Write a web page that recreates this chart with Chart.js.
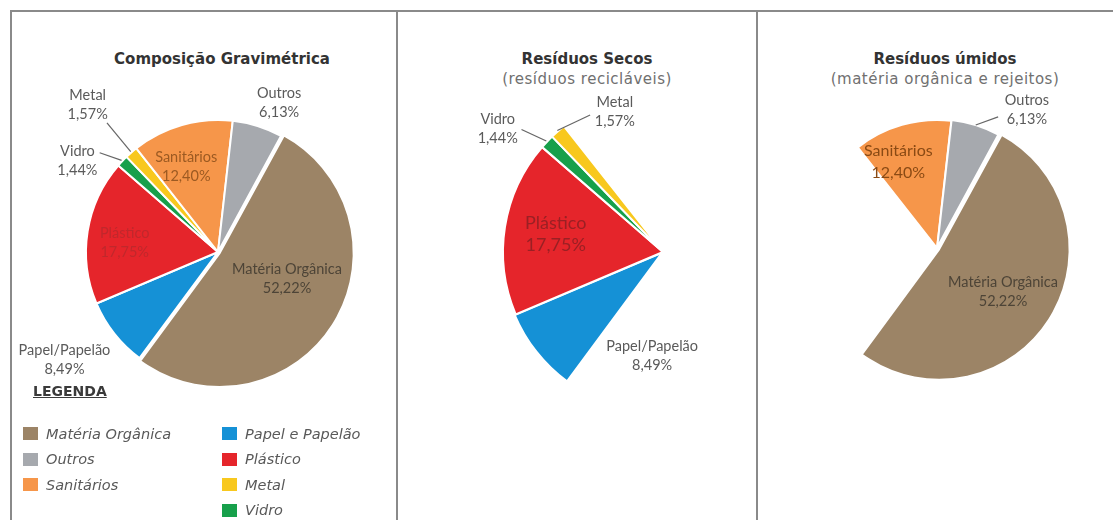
<!DOCTYPE html>
<html>
<head>
<meta charset="utf-8">
<script src="https://cdn.jsdelivr.net/npm/chart.js@4.4.1/dist/chart.umd.min.js"></script>
<style>
  body { margin: 0; width: 1113px; height: 520px; overflow: hidden; background: #fff; position: relative; }
  .rule { position: absolute; background: #8a8a8a; }
  canvas { position: absolute; }
  .title { position: absolute; text-align: center; font-family: 'DejaVu Sans', sans-serif; color: #333; }
  .title b { font-size: 15px; display: block; line-height: 21px; }
  .title span { font-size: 15px; letter-spacing: 0.5px; color: #707070; display: block; line-height: 19px; }
  #legTitle { position: absolute; left: 33px; top: 383px; font: bold 14px 'DejaVu Sans', sans-serif; color: #3a3a3a; text-decoration: underline; }
  .leg { position: absolute; font: oblique 14.5px 'DejaVu Sans', sans-serif; color: #595959; }
  .leg div { height: 25.5px; display: flex; align-items: center; }
  .leg i { display: inline-block; width: 15px; height: 13px; margin-right: 8px; }
</style>
</head>
<body>
<div class="rule" style="left:10px;top:10px;width:1103px;height:2px"></div>
<div class="rule" style="left:10px;top:10px;width:2px;height:510px"></div>
<div class="rule" style="left:396px;top:10px;width:2px;height:510px"></div>
<div class="rule" style="left:756px;top:10px;width:2px;height:510px"></div>

<div class="title" style="left:72px;width:300px;top:49px"><b>Composição Gravimétrica</b></div>
<div class="title" style="left:437px;width:300px;top:49px"><b>Resíduos Secos</b><span>(resíduos recicláveis)</span></div>
<div class="title" style="left:795px;width:300px;top:49px"><b>Resíduos úmidos</b><span>(matéria orgânica e rejeitos)</span></div>

<canvas id="pie1" width="440" height="500" style="left:-2px;top:2px"></canvas>
<canvas id="pie2" width="440" height="500" style="left:443px;top:2px"></canvas>
<canvas id="pie3" width="440" height="500" style="left:717px;top:-2px"></canvas>

<div id="legTitle">LEGENDA</div>
<div class="leg" id="legA" style="left:23px;top:421px"></div>
<div class="leg" id="legB" style="left:222px;top:421px"></div>

<script>
// slices, clockwise from the start angle
const categories = ['Matéria Orgânica', 'Papel/Papelão', 'Plástico', 'Vidro', 'Metal', 'Sanitários', 'Outros'];
const percentages = [52.22, 8.49, 17.75, 1.44, 1.57, 12.40, 6.13];
const drySlices = ['Papel/Papelão', 'Plástico', 'Vidro', 'Metal'];
const wetSlices = ['Matéria Orgânica', 'Sanitários', 'Outros'];
// legend columns
const legendLeft = ['Matéria Orgânica', 'Outros', 'Sanitários'];
const legendRight = ['Papel e Papelão', 'Plástico', 'Metal', 'Vidro'];

const colors = {
  'Matéria Orgânica': '#9c8466',
  'Papel/Papelão': '#1591d6',
  'Papel e Papelão': '#1591d6',
  'Plástico': '#e5252b',
  'Vidro': '#17a04b',
  'Metal': '#f8c81e',
  'Sanitários': '#f6964a',
  'Outros': '#a6a9ae'
};

const fmt = v => v.toFixed(2).replace('.', ',') + '%';

// label placement: angle (deg, clockwise from top) and distance as share of radius
const gray = '#5a5a5a';
const labels1 = {
  'Matéria Orgânica': { a: 111, d: 0.56, color: '#4d4437' },
  'Papel/Papelão': { a: 235, d: 1.42, color: gray },
  'Plástico': { a: 275.5, d: 0.71, color: '#c0282c' },
  'Vidro': { a: 303, d: 1.27, color: gray, leader: [310, 1.17] },
  'Metal': { a: 318.5, d: 1.49, color: gray, leader: [319.3, 1.29] },
  'Sanitários': { a: 339.6, d: 0.69, color: '#9c5a22' },
  'Outros': { a: 22.3, d: 1.22, color: gray }
};
const labels2 = {
  'Papel/Papelão': { a: 186, d: 0.65, color: gray },
  'Plástico': { a: 279.5, d: 0.68, color: '#9a2024', size: 18, lh: 22 },
  'Vidro': { a: 306.8, d: 1.29, color: gray, leader: [310.9, 1.17] },
  'Metal': { a: 341, d: 0.925, color: gray, leader: [332, 0.97] }
};
const labels3 = {
  'Matéria Orgânica': { a: 123.7, d: 0.62, color: '#4d4437' },
  'Sanitários': { a: 335.9, d: 0.74, color: '#8a4a14', size: 16, lh: 22 },
  'Outros': { a: 33, d: 1.29, color: gray, leader: [25, 1.13] }
};

const sliceLabels = {
  id: 'sliceLabels',
  afterDatasetsDraw(chart, args, opts) {
    const { ctx } = chart;
    const meta = chart.getDatasetMeta(0);
    meta.data.forEach((arc, i) => {
      const cfg = opts.items[categories[i]];
      if (!cfg) return;
      const { x, y, outerRadius, startAngle, endAngle } = arc.getProps(['x', 'y', 'outerRadius', 'startAngle', 'endAngle'], true);
      const at = (deg, f) => {
        const t = deg * Math.PI / 180 - Math.PI / 2;
        return [x + Math.cos(t) * f * outerRadius, y + Math.sin(t) * f * outerRadius];
      };
      const size = cfg.size || 14.5;
      const lh = cfg.lh || 19;
      const [tx, ty] = at(cfg.a, cfg.d);
      ctx.save();
      if (cfg.leader) {
        const mid = (startAngle + endAngle) / 2;
        const [lx, ly] = at(cfg.leader[0], cfg.leader[1]);
        ctx.strokeStyle = '#666';
        ctx.lineWidth = 1.2;
        ctx.beginPath();
        ctx.moveTo(lx, ly);
        ctx.lineTo(x + Math.cos(mid) * (outerRadius + 1), y + Math.sin(mid) * (outerRadius + 1));
        ctx.stroke();
      }
      ctx.fillStyle = cfg.color;
      ctx.font = size + 'px Lato, sans-serif';
      ctx.textAlign = 'center';
      ctx.textBaseline = 'middle';
      ctx.fillText(categories[i], tx, ty - lh / 2);
      ctx.fillText(fmt(percentages[i]), tx, ty + lh / 2);
      ctx.restore();
    });
  }
};

function makePie(id, shown, radius, offsets, labelItems) {
  const visible = categories.map(c => shown.includes(c));
  new Chart(document.getElementById(id), {
    type: 'pie',
    data: {
      labels: categories,
      datasets: [{
        data: percentages,
        backgroundColor: categories.map((c, i) => visible[i] ? colors[c] : 'rgba(0,0,0,0)'),
        borderColor: '#fff',
        borderWidth: categories.map((c, i) => visible[i] ? 2 : 0),
        offset: categories.map(c => offsets[c] || 0),
        radius: radius,
        rotation: 28.5
      }]
    },
    plugins: [sliceLabels],
    options: {
      responsive: false,
      animation: false,
      devicePixelRatio: 1,
      events: [],
      layout: { padding: 0 },
      plugins: {
        legend: { display: false },
        tooltip: { enabled: false },
        sliceLabels: { items: labelItems }
      }
    }
  });
}

makePie('pie1', categories, 132, { 'Matéria Orgânica': 8 }, labels1);
makePie('pie2', drySlices, 160, { 'Papel/Papelão': 3 }, labels2);
makePie('pie3', wetSlices, 128, { 'Matéria Orgânica': 10, 'Outros': 2 }, labels3);

// legend block
function fillLegend(elId, names) {
  const box = document.getElementById(elId);
  names.forEach(n => {
    const row = document.createElement('div');
    const sw = document.createElement('i');
    sw.style.background = colors[n];
    row.appendChild(sw);
    row.appendChild(document.createTextNode(n));
    box.appendChild(row);
  });
}
fillLegend('legA', legendLeft);
fillLegend('legB', legendRight);
</script>
</body>
</html>
